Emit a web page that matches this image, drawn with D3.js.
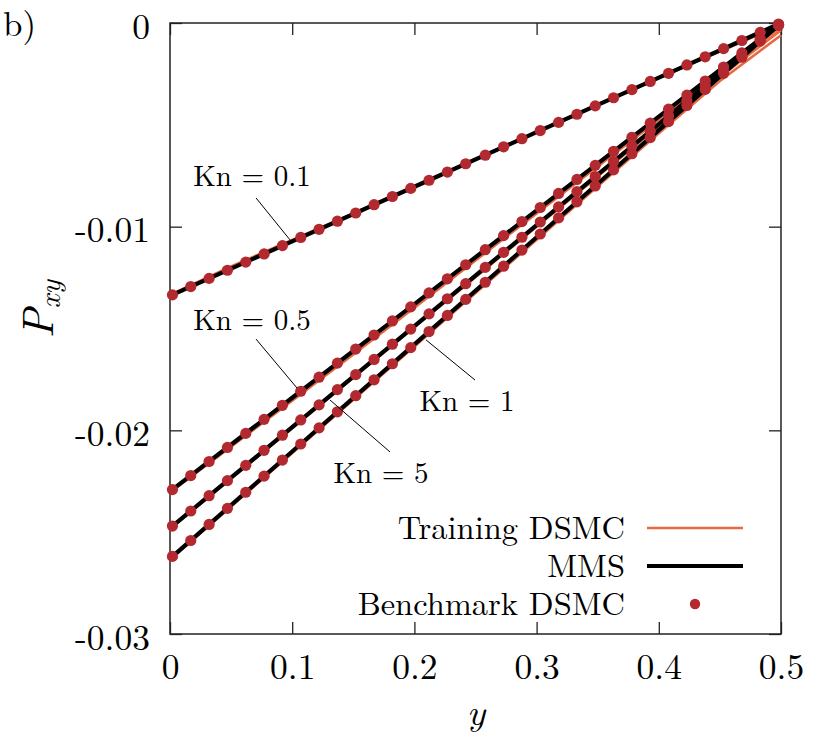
<!DOCTYPE html>
<html>
<head>
<meta charset="utf-8">
<script src="https://cdn.jsdelivr.net/npm/d3@7"></script>
<style>
  html, body { margin: 0; padding: 0; background: #fff; }
  svg { display: block; }
</style>
</head>
<body>
<svg id="chart" width="830" height="737"></svg>
<script>
// ---------------- DATA ----------------
const xTicks = [0, 0.1, 0.2, 0.3, 0.4, 0.5];
const xTickLabels = ["0", "0.1", "0.2", "0.3", "0.4", "0.5"];
const yTicks = [0, -0.01, -0.02, -0.03];
const yTickLabels = ["0", "-0.01", "-0.02", "-0.03"];

// Benchmark DSMC sample positions (y)
const benchY = [0.002, 0.017, 0.032, 0.047, 0.062, 0.077, 0.092, 0.107, 0.122, 0.137,
  0.152, 0.167, 0.182, 0.197, 0.212, 0.227, 0.242, 0.258, 0.273, 0.288,
  0.303, 0.318, 0.333, 0.348, 0.363, 0.378, 0.393, 0.408, 0.423, 0.438,
  0.453, 0.468, 0.483, 0.498];

const benchKn01 = [-0.01335, -0.01294, -0.01254, -0.01214, -0.01174, -0.01134, -0.01093, -0.01053, -0.01013, -0.00973,
  -0.00933, -0.00892, -0.00852, -0.00812, -0.00772, -0.00732, -0.00691, -0.00649, -0.00608, -0.00568,
  -0.00528, -0.00488, -0.00448, -0.00407, -0.00367, -0.00327, -0.00287, -0.00247, -0.00206, -0.00166,
  -0.00126, -0.00086, -0.00046, -0.00005];
const benchKn05 = [-0.02291, -0.02222, -0.02153, -0.02084, -0.02015, -0.01946, -0.01877, -0.01808, -0.01739, -0.01670,
  -0.01601, -0.01532, -0.01463, -0.01394, -0.01325, -0.01256, -0.01187, -0.01113, -0.01044, -0.00975,
  -0.00906, -0.00837, -0.00768, -0.00699, -0.00630, -0.00561, -0.00492, -0.00423, -0.00354, -0.00285,
  -0.00216, -0.00147, -0.00078, -0.00009];
const benchKn5 = [-0.02470, -0.02396, -0.02321, -0.02247, -0.02172, -0.02098, -0.02024, -0.01949, -0.01875, -0.01800,
  -0.01726, -0.01652, -0.01577, -0.01503, -0.01428, -0.01354, -0.01280, -0.01200, -0.01126, -0.01052,
  -0.00977, -0.00903, -0.00828, -0.00754, -0.00680, -0.00605, -0.00531, -0.00456, -0.00382, -0.00308,
  -0.00233, -0.00159, -0.00084, -0.00010];
const benchKn1 = [-0.02619, -0.02541, -0.02462, -0.02383, -0.02304, -0.02225, -0.02146, -0.02067, -0.01988, -0.01909,
  -0.01830, -0.01752, -0.01673, -0.01594, -0.01515, -0.01436, -0.01357, -0.01273, -0.01194, -0.01115,
  -0.01036, -0.00957, -0.00878, -0.00800, -0.00721, -0.00642, -0.00563, -0.00484, -0.00405, -0.00326,
  -0.00247, -0.00168, -0.00089, -0.00011];

// MMS profiles
const mmsY = [0, 0.1, 0.2, 0.3, 0.4, 0.5];
const mmsKn01 = [-0.0134, -0.01072, -0.00804, -0.00536, -0.00268, 0];
const mmsKn05 = [-0.0230, -0.0184, -0.0138, -0.0092, -0.0046, 0];
const mmsKn5  = [-0.0248, -0.01984, -0.01488, -0.00992, -0.00496, 0];
const mmsKn1  = [-0.0263, -0.02104, -0.01578, -0.01052, -0.00526, 0];

// Training DSMC profiles
const trainY = [0, 0.05, 0.1, 0.15, 0.2, 0.25, 0.3, 0.35, 0.4, 0.45, 0.5];
const trainKn01 = [-0.01335, -0.01195, -0.01065, -0.00935, -0.00800, -0.00668, -0.00534, -0.00400, -0.00270, -0.00140, -0.00010];
const trainKn05 = [-0.02305, -0.02080, -0.01855, -0.01628, -0.01398, -0.01166, -0.00935, -0.00705, -0.00475, -0.00245, -0.00020];
const trainKn5  = [-0.02485, -0.02236, -0.01990, -0.01742, -0.01494, -0.01248, -0.01000, -0.00754, -0.00508, -0.00265, -0.00035];
const trainKn1  = [-0.02635, -0.02374, -0.02112, -0.01850, -0.01588, -0.01326, -0.01064, -0.00802, -0.00542, -0.00285, -0.00060];

const legendLabels = ["Training DSMC", "MMS", "Benchmark DSMC"];

// annotations (data coordinates): label anchor, leader start, leader end
const annoText = ["Kn = 0.1", "Kn = 0.5", "Kn = 1", "Kn = 5"];
const annoPos  = [[0.0671, -0.00800], [0.0671, -0.01507], [0.2430, -0.01905], [0.1727, -0.02259]];
const annoFrom = [[0.0704, -0.00859], [0.0704, -0.01552], [0.2496, -0.01753], [0.1800, -0.02106]];
const annoTo   = [[0.0982, -0.01065], [0.1039, -0.01792], [0.2095, -0.01556], [0.1309, -0.01851]];

// ---------------- LAYOUT ----------------
const svg = d3.select("#chart");
const L = 170, R = 781, T = 23, B = 634;
const x = d3.scaleLinear().domain([0, 0.5]).range([L, R]);
const y = d3.scaleLinear().domain([0, -0.03]).range([T, B]);

const FONT = '"Latin Modern Roman", "Liberation Serif", serif';
const COL_TRAIN = "#e8693f";
const COL_MMS = "#000000";
const COL_BENCH = "#b22a30";

// axes
const gx = svg.append("g").attr("transform", `translate(0,${B})`)
  .call(d3.axisBottom(x).tickValues(xTicks).tickFormat((d, i) => xTickLabels[i])
    .tickSizeInner(-12).tickSizeOuter(0).tickPadding(20));
const gy = svg.append("g").attr("transform", `translate(${L},0)`)
  .call(d3.axisLeft(y).tickValues(yTicks).tickFormat((d, i) => yTickLabels[i])
    .tickSizeInner(-12).tickSizeOuter(0).tickPadding(20));
const gt = svg.append("g").attr("transform", `translate(0,${T})`)
  .call(d3.axisTop(x).tickValues(xTicks).tickFormat("").tickSizeInner(-12).tickSizeOuter(0));
const gr = svg.append("g").attr("transform", `translate(${R},0)`)
  .call(d3.axisRight(y).tickValues(yTicks).tickFormat("").tickSizeInner(-12).tickSizeOuter(0));

[gx, gy, gt, gr].forEach(g => {
  g.select(".domain").remove();
  g.selectAll(".tick line").attr("stroke", "#222").attr("stroke-width", 1.3);
  g.selectAll(".tick text").attr("font-size", 35.5).attr("fill", "#000")
    .style("font-family", FONT);
});
gy.selectAll(".tick text").attr("dy", "0.43em");

// frame
svg.append("rect").attr("x", L).attr("y", T).attr("width", R - L).attr("height", B - T)
  .attr("fill", "none").attr("stroke", "#222").attr("stroke-width", 1.5);

// series
const line = d3.line().x(d => x(d[0])).y(d => y(d[1]));
const zip = (a, b) => a.map((v, i) => [v, b[i]]);

const trainSets = [trainKn01, trainKn05, trainKn5, trainKn1];
const mmsSets = [mmsKn01, mmsKn05, mmsKn5, mmsKn1];
const benchSets = [benchKn01, benchKn05, benchKn5, benchKn1];

svg.append("g").selectAll("path").data(trainSets).join("path")
  .attr("d", d => line(zip(trainY, d)))
  .attr("fill", "none").attr("stroke", COL_TRAIN).attr("stroke-width", 2.6);

svg.append("g").selectAll("path").data(mmsSets).join("path")
  .attr("d", d => line(zip(mmsY, d)))
  .attr("fill", "none").attr("stroke", COL_MMS).attr("stroke-width", 4.2);

benchSets.forEach(s => {
  svg.append("g").selectAll("circle").data(zip(benchY, s)).join("circle")
    .attr("cx", d => x(d[0])).attr("cy", d => y(d[1])).attr("r", 5.6)
    .attr("fill", COL_BENCH);
});

// annotations
annoText.forEach((t, i) => {
  svg.append("line")
    .attr("x1", x(annoFrom[i][0])).attr("y1", y(annoFrom[i][1]))
    .attr("x2", x(annoTo[i][0])).attr("y2", y(annoTo[i][1]))
    .attr("stroke", "#000").attr("stroke-width", 1);
  svg.append("text")
    .attr("x", x(annoPos[i][0])).attr("y", y(annoPos[i][1]))
    .attr("text-anchor", "middle").attr("font-size", 29)
    .style("font-family", FONT).style("white-space", "pre")
    .text(t);
});

// legend
const legRowY = [528, 566, 604];
const legTextX = 625, legSampleX1 = 647, legSampleX2 = 743;
legendLabels.forEach((lab, i) => {
  svg.append("text").attr("x", legTextX).attr("y", legRowY[i] + 11)
    .attr("text-anchor", "end").attr("font-size", 32.5)
    .style("font-family", FONT).text(lab);
});
svg.append("line").attr("x1", legSampleX1).attr("x2", legSampleX2)
  .attr("y1", legRowY[0]).attr("y2", legRowY[0])
  .attr("stroke", COL_TRAIN).attr("stroke-width", 2.6);
svg.append("line").attr("x1", legSampleX1).attr("x2", legSampleX2)
  .attr("y1", legRowY[1]).attr("y2", legRowY[1])
  .attr("stroke", COL_MMS).attr("stroke-width", 4.2);
svg.append("circle").attr("cx", (legSampleX1 + legSampleX2) / 2).attr("cy", legRowY[2])
  .attr("r", 5.2).attr("fill", COL_BENCH);

// axis titles
svg.append("text").attr("x", 476).attr("y", 725).attr("text-anchor", "middle")
  .attr("font-size", 38).attr("font-style", "italic")
  .style("font-family", FONT).text("y");

const yl = svg.append("text")
  .attr("transform", "translate(53,309) rotate(-90)")
  .attr("text-anchor", "middle").attr("font-size", 44).attr("font-style", "italic")
  .style("font-family", FONT);
yl.append("tspan").text("P");
yl.append("tspan").attr("font-size", 30).attr("dy", 7).text("xy");

// panel label
svg.append("text").attr("x", 3).attr("y", 36).attr("font-size", 35)
  .style("font-family", FONT).text("b)");
</script>
</body>
</html>
